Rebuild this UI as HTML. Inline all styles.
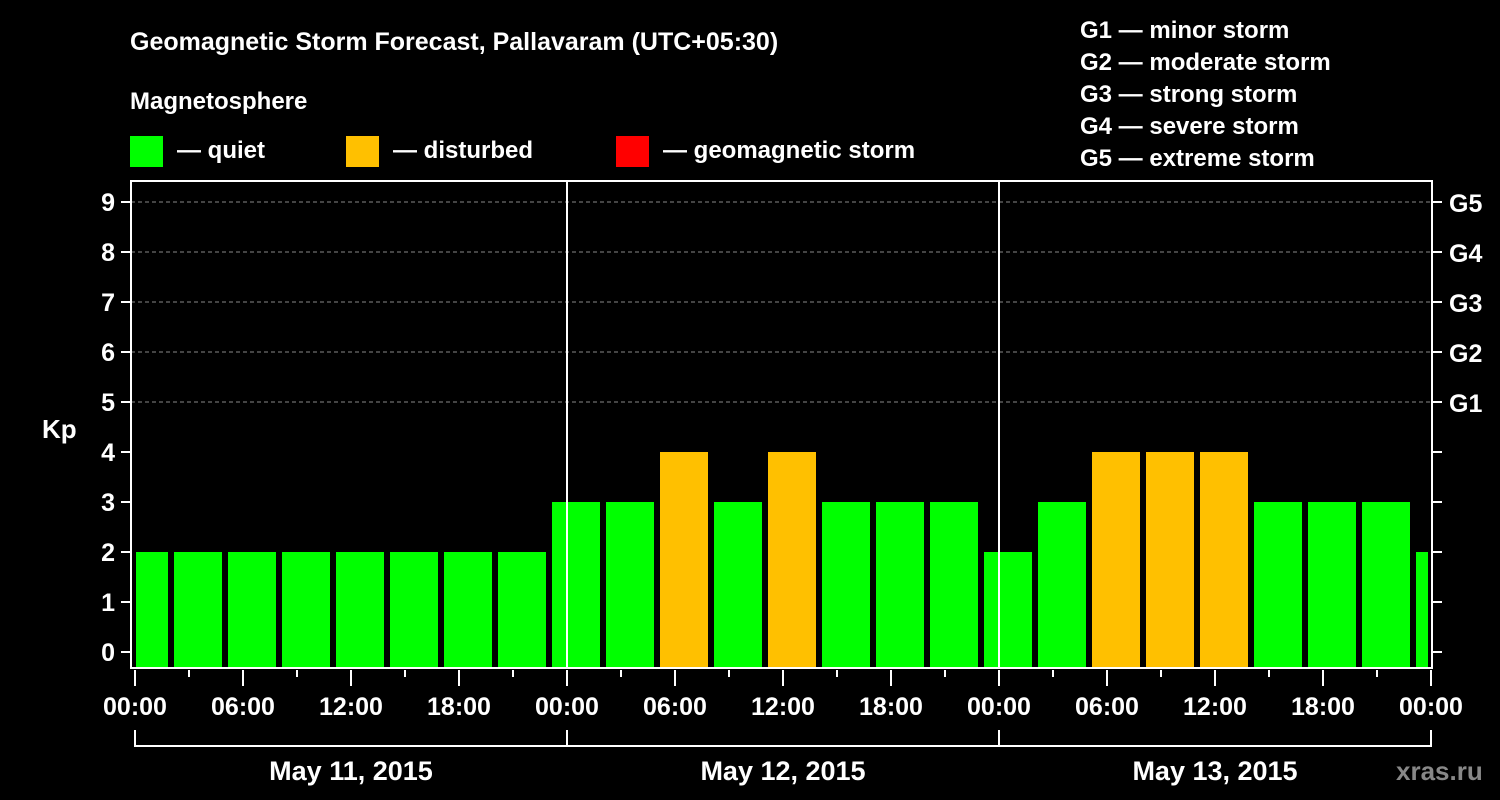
<!DOCTYPE html>
<html><head><meta charset="utf-8"><style>
html,body{margin:0;padding:0;background:#000;width:1500px;height:800px;overflow:hidden}
svg text{font-family:"Liberation Sans",sans-serif;font-weight:bold;fill:#fff}
</style></head><body>
<svg id="chart" width="1500" height="800" xmlns="http://www.w3.org/2000/svg">
<rect width="1500" height="800" fill="#000"/>
<text x="130" y="50" font-size="25">Geomagnetic Storm Forecast, Pallavaram (UTC+05:30)</text>
<text x="130" y="109" font-size="24">Magnetosphere</text>
<g><rect x="130" y="136" width="33" height="31" fill="#00ff00"/><text x="177" y="158" font-size="24">— quiet</text></g>
<g><rect x="346" y="136" width="33" height="31" fill="#ffc000"/><text x="393" y="158" font-size="24">— disturbed</text></g>
<g><rect x="616" y="136" width="33" height="31" fill="#ff0000"/><text x="663" y="158" font-size="24">— geomagnetic storm</text></g>
<g font-size="24">
<text x="1080" y="38">G1 — minor storm</text>
<text x="1080" y="70">G2 — moderate storm</text>
<text x="1080" y="102">G3 — strong storm</text>
<text x="1080" y="134">G4 — severe storm</text>
<text x="1080" y="166">G5 — extreme storm</text>
</g>
<g id="grid"></g>
<g id="bars"></g>
<g id="axes"></g>
<text x="42" y="438" font-size="26">Kp</text>
<text x="1396" y="780" font-size="26" style="fill:#888">xras.ru</text>
</svg>
<script>
const kpValues=[2,2,2,2,2,2,2,2,3,3,4,3,4,3,3,3,2,3,4,4,4,3,3,3,2];
const kpStatus=["q","q","q","q","q","q","q","q","q","q","d","q","d","q","q","q","q","q","d","d","d","q","q","q","q"];
const dayLabels=["May 11, 2015","May 12, 2015","May 13, 2015"];
const hourLabels=["00:00","06:00","12:00","18:00"];
const gLabels=["G1","G2","G3","G4","G5"];
const kpTicks=[0,1,2,3,4,5,6,7,8,9];
const binStartHour=-0.5, binHours=3;

const NS="http://www.w3.org/2000/svg";
const X0=135, PXH=18, PL=131, PR=1432, PT=181, PB=668;
function xOf(h){return X0+h*PXH;}
function yOf(k){return 652-k*50;}
function mk(tag,attrs,parent){const e=document.createElementNS(NS,tag);for(const k in attrs)e.setAttribute(k,attrs[k]);parent.appendChild(e);return e;}
const grid=document.getElementById('grid'),bars=document.getElementById('bars'),axes=document.getElementById('axes');
const colors={q:"#00ff00",d:"#ffc000",s:"#ff0000"};

for(let k=5;k<=9;k++){
  const l=mk('line',{x1:PL,x2:PR,y1:yOf(k),y2:yOf(k),stroke:'#888','stroke-dasharray':'4,3','stroke-width':1},grid);
  
  
}
kpValues.forEach((v,i)=>{
  const hs=binStartHour+i*binHours;
  let left=xOf(hs)-6, right=left+48;
  left=Math.max(left,PL+5); right=Math.min(right,PR-4);
  const r=mk('rect',{x:left,y:yOf(v),width:right-left,height:PB-yOf(v),fill:colors[kpStatus[i]]},bars);
  
  
});
// day separators
for(let d=1;d<3;d++){
  const l=mk('line',{x1:xOf(24*d),x2:xOf(24*d),y1:PT,y2:PB,stroke:'#fff','stroke-width':2},axes);
  
  
}
const frame=mk('rect',{x:PL,y:PT,width:PR-PL,height:PB-PT,fill:'none',stroke:'#fff','stroke-width':2},axes);


kpTicks.forEach(k=>{
  mk('line',{x1:PL-10,x2:PL,y1:yOf(k),y2:yOf(k),stroke:'#fff','stroke-width':2},axes);
  mk('line',{x1:PR,x2:PR+10,y1:yOf(k),y2:yOf(k),stroke:'#fff','stroke-width':2},axes);
  const t=mk('text',{x:PL-16,y:yOf(k)+9,'font-size':25,'text-anchor':'end'},axes);
  t.textContent=k;
  
  
  if(k>=5){
    const g=mk('text',{x:1449,y:yOf(k)+10,'font-size':25},axes);
    g.textContent=gLabels[k-5];
    
    
  }
});
for(let h=0;h<=72;h+=3){
  const major=h%6===0;
  mk('line',{x1:xOf(h),x2:xOf(h),y1:PB+2,y2:major?PB+18:PB+9,stroke:'#fff','stroke-width':2},axes);
  if(major){
    const t=mk('text',{x:xOf(h),y:715,'font-size':25,'text-anchor':'middle'},axes);
    t.textContent=hourLabels[(h/6)%4];
    
    
  }
}
dayLabels.forEach((lab,d)=>{
  const x1=xOf(24*d),x2=xOf(24*(d+1));
  mk('path',{d:`M${x1} 730V746H${x2}V730`,fill:'none',stroke:'#fff','stroke-width':2},axes);
  const t=mk('text',{x:(x1+x2)/2,y:780,'font-size':27,'text-anchor':'middle'},axes);
  t.textContent=lab;
  
  
});
</script>
</body></html>
